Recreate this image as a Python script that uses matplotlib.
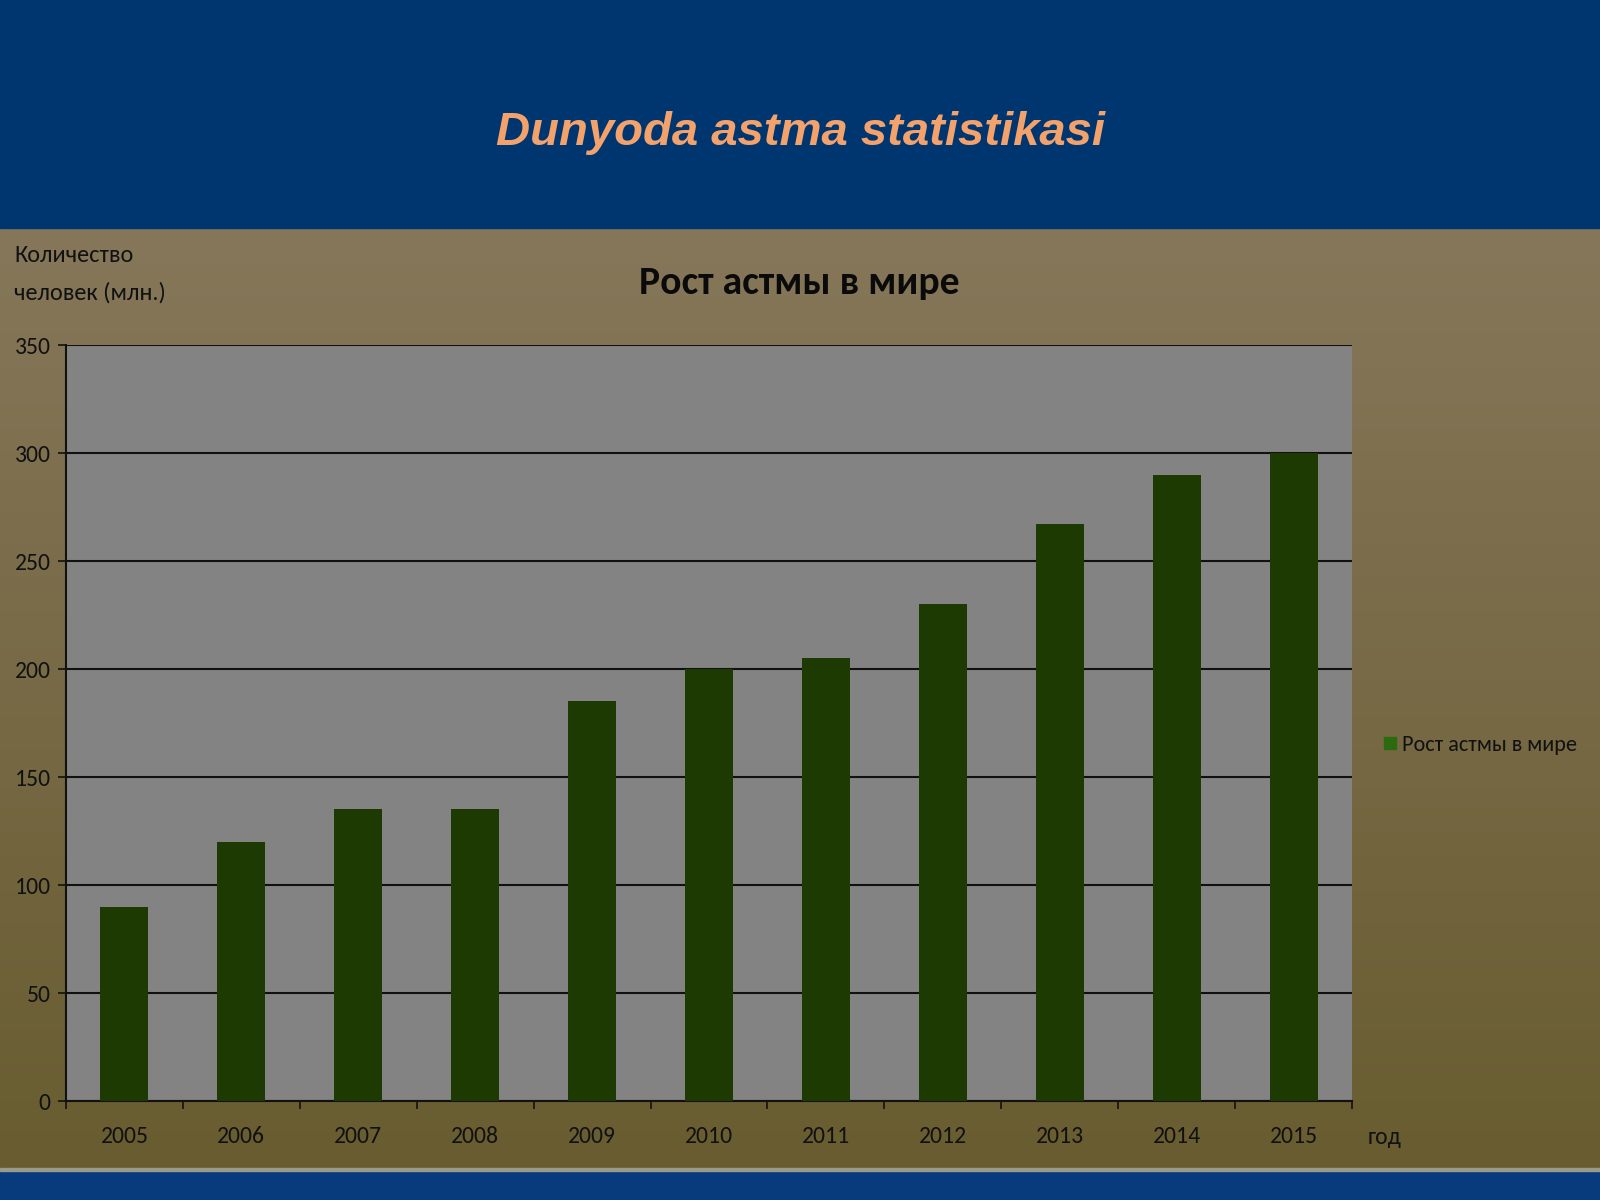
import numpy as np
import matplotlib
matplotlib.use("Agg")
import matplotlib.pyplot as plt
from matplotlib.patches import Rectangle
from matplotlib.lines import Line2D
from matplotlib import font_manager as fm

years = ["2005", "2006", "2007", "2008", "2009", "2010", "2011", "2012", "2013", "2014", "2015"]
values = [90, 120, 135, 135, 185, 200, 205, 230, 267, 290, 300]
yticks = [0, 50, 100, 150, 200, 250, 300, 350]

names = {f.name for f in fm.fontManager.ttflist}
narrow = "DejaVu Sans"
for cand in ["Carlito", "Archivo Narrow", "Asap Condensed", "Roboto Condensed", "Liberation Sans Narrow"]:
    if cand in names:
        narrow = cand
        break
NF = [narrow, "DejaVu Sans"]

fig = plt.figure(figsize=(16, 12), dpi=100)

# background
bg = fig.add_axes([0, 0, 1, 1], zorder=-10)
bg.set_xlim(0, 1); bg.set_ylim(0, 1); bg.axis("off")
top_c = np.array([134, 119, 90]) / 255
bot_c = np.array([104, 92, 48]) / 255
t = np.linspace(0, 1, 256)[:, None]
grad = (bot_c[None, None, :] * (1 - t[..., None]) + top_c[None, None, :] * t[..., None])
grad = np.repeat(grad, 2, axis=1)
bg.imshow(grad, extent=[0, 1, 0.025, 0.81], origin="lower", aspect="auto")
bg.add_patch(Rectangle((0, 0.81), 1, 0.19, color="#003670"))
bg.add_patch(Rectangle((0, 0), 1, 0.025, color="#083b7c"))
bg.add_patch(Rectangle((0, 0.0245), 1, 0.002, color="#9a9a8a"))

fig.text(0.50, 0.889, "Dunyoda astma statistikasi", ha="center", va="center",
         fontsize=34, fontweight="bold", fontstyle="italic", color="#f4a26c",
         family="Liberation Sans")

ax = fig.add_axes([0.04125, 0.0825, 0.80375, 0.63])
ax.set_facecolor("#838383")
x = np.arange(len(years))
ax.bar(x, values, width=0.41, color="#1d3a02", zorder=3, label="Рост астмы в мире")
ax.set_xlim(-0.5, len(years) - 0.5)
ax.set_ylim(0, 350)
ax.set_yticks(yticks)
ax.set_yticklabels([str(v) for v in yticks], fontsize=17, family=NF, color="#111111")
ax.set_xticks(x)
ax.set_xticklabels(years, fontsize=17, family=NF, color="#111111")
ax.tick_params(axis="x", length=0, pad=18)
ax.set_xticks(np.arange(-0.5, len(years)), minor=True)
ax.tick_params(axis="x", which="minor", length=6, width=1.2, color="#111111", direction="out")
ax.tick_params(axis="y", length=6, width=1.2, color="#111111", direction="out", pad=5)
ax.grid(axis="y", color="#111111", linewidth=1.5, zorder=1)
ax.set_axisbelow(True)
for s in ["top", "right"]:
    ax.spines[s].set_visible(False)
for s in ["left", "bottom"]:
    ax.spines[s].set_color("#111111")
    ax.spines[s].set_linewidth(1.5)

fig.text(0.4995, 0.764, "Рост астмы в мире", ha="center", va="center",
         fontsize=28.5, fontweight="bold", family=NF, color="#0a0a0a")
fig.text(0.009, 0.787, "Количество", ha="left", va="center",
         fontsize=17.5, family=NF, color="#111111")
fig.text(0.009, 0.756, "человек (млн.)", ha="left", va="center",
         fontsize=17.5, family=NF, color="#111111")
fig.text(0.8545, 0.0525, "год", ha="left", va="center",
         fontsize=17, family=NF, color="#111111")

handles = [Line2D([0], [0], marker="s", linestyle="none", markersize=9,
                  markerfacecolor="#2c6a10", markeredgecolor="#2c6a10")]
fig.legend(handles, ["Рост астмы в мире"], loc="center left",
           bbox_to_anchor=(0.851, 0.379), frameon=False, handletextpad=0.1,
           handlelength=0.8, prop={"family": NF, "size": 16}, labelcolor="#111111")

fig.savefig("out.png", dpi=100)
